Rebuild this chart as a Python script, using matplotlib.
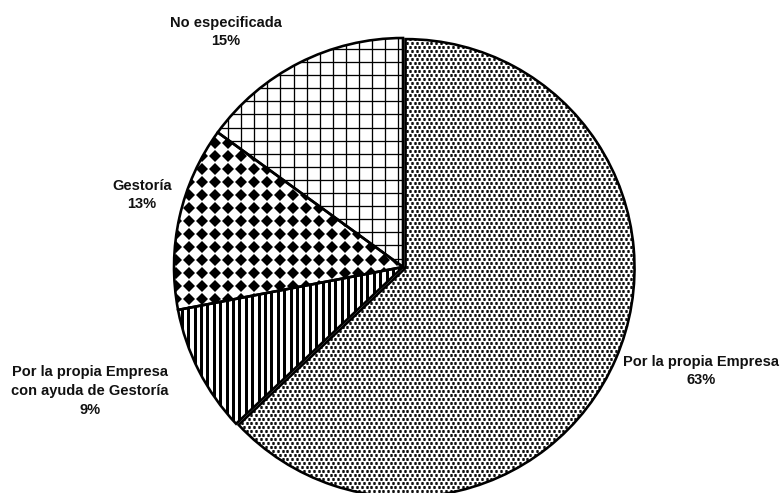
import numpy as np
import matplotlib
matplotlib.use("Agg")
import matplotlib.pyplot as plt

# Shares of how the paperwork is handled
categories = ["Por la propia Empresa",
              "Por la propia Empresa\ncon ayuda de Gestoría",
              "Gestoría",
              "No especificada"]
shares = [63, 9, 13, 15]

W, H = 782, 493
CX, CY, R = 403, 267, 229  # pie centre and radius in pixels

fig = plt.figure(figsize=(W / 100, H / 100), dpi=100)
ax = fig.add_axes([0, 0, 1, 1])

explode = [0.012, 0, 0, 0]

def set_view():
    ax.set_xlim(-CX / R, (W - CX) / R)
    ax.set_ylim(-(H - CY) / R, CY / R)
    ax.set_aspect("auto")
    ax.axis("off")

# white base wedges
wedges, _ = ax.pie(shares, startangle=90, counterclock=False, explode=explode,
                   radius=1, center=(0, 0), frame=True,
                   wedgeprops=dict(facecolor="white", edgecolor="none", zorder=1))
set_view()

px = 1.0 / R  # one pixel in data units
lw_px = 72 / 100  # points per pixel

def clip(artists, patch):
    for a in artists:
        a.set_clip_path(patch)

# stipple texture for the first wedge
spx, spy = 4.8 * px, 4.0 * px
ys = np.arange(-1.05, 1.05, spy)
pts = []
for i, y in enumerate(ys):
    xs = np.arange(-1.05 + (i % 2) * spx / 2, 1.05, spx)
    pts.append(np.column_stack([xs, np.full_like(xs, y)]))
pts = np.vstack(pts)
sc = ax.scatter(pts[:, 0], pts[:, 1], marker="s", s=(2.55 * lw_px) ** 2,
                color="#111111", linewidths=0, zorder=2)
sc.set_snap(False)
clip([sc], wedges[0])

# vertical stripes for the second wedge
sp = 6.4 * px
lines = []
for x in np.arange(-1.05, 1.05, sp):
    l, = ax.plot([x, x], [-1.05, 1.05], color="black", lw=3.0 * lw_px,
                 solid_capstyle="butt", zorder=2)
    lines.append(l)
clip(lines, wedges[1])

# diamond dots for the third wedge
sp = 13.0 * px
gx, gy = np.meshgrid(np.arange(-1.05, 1.05, sp), np.arange(-1.05, 1.05, sp))
dm, = ax.plot(gx.ravel(), gy.ravel(), linestyle="none", marker="D",
              markersize=8.0 * lw_px, color="black", markeredgewidth=0, zorder=2)
clip([dm], wedges[2])

# square grid for the fourth wedge
sp = 13.1 * px
grid = []
for v in np.arange(-1.05, 1.05, sp):
    a, = ax.plot([v, v], [-1.05, 1.05], color="black", lw=1.3 * lw_px, zorder=2)
    b, = ax.plot([-1.05, 1.05], [v, v], color="black", lw=1.3 * lw_px, zorder=2)
    grid += [a, b]
clip(grid, wedges[3])

# outlines on top
ax.pie(shares, startangle=90, counterclock=False, explode=explode,
       radius=1, center=(0, 0), frame=True,
       wedgeprops=dict(fill=False, edgecolor="black", linewidth=2.6 * lw_px,
                       joinstyle="miter", zorder=3))
set_view()

# label positions in pixels (centre of the text block)
label_px = [(701, 371), (90, 391), (142, 195), (226, 32)]
for name, val, (lx, ly) in zip(categories, shares, label_px):
    ax.text((lx - CX) / R, (CY - ly) / R, f"{name}\n{val}%",
            ha="center", va="center", multialignment="center",
            fontsize=10.5, fontweight="bold", family="Liberation Sans",
            color="#111111", linespacing=1.45, zorder=4)

fig.savefig("out.png", dpi=100)
